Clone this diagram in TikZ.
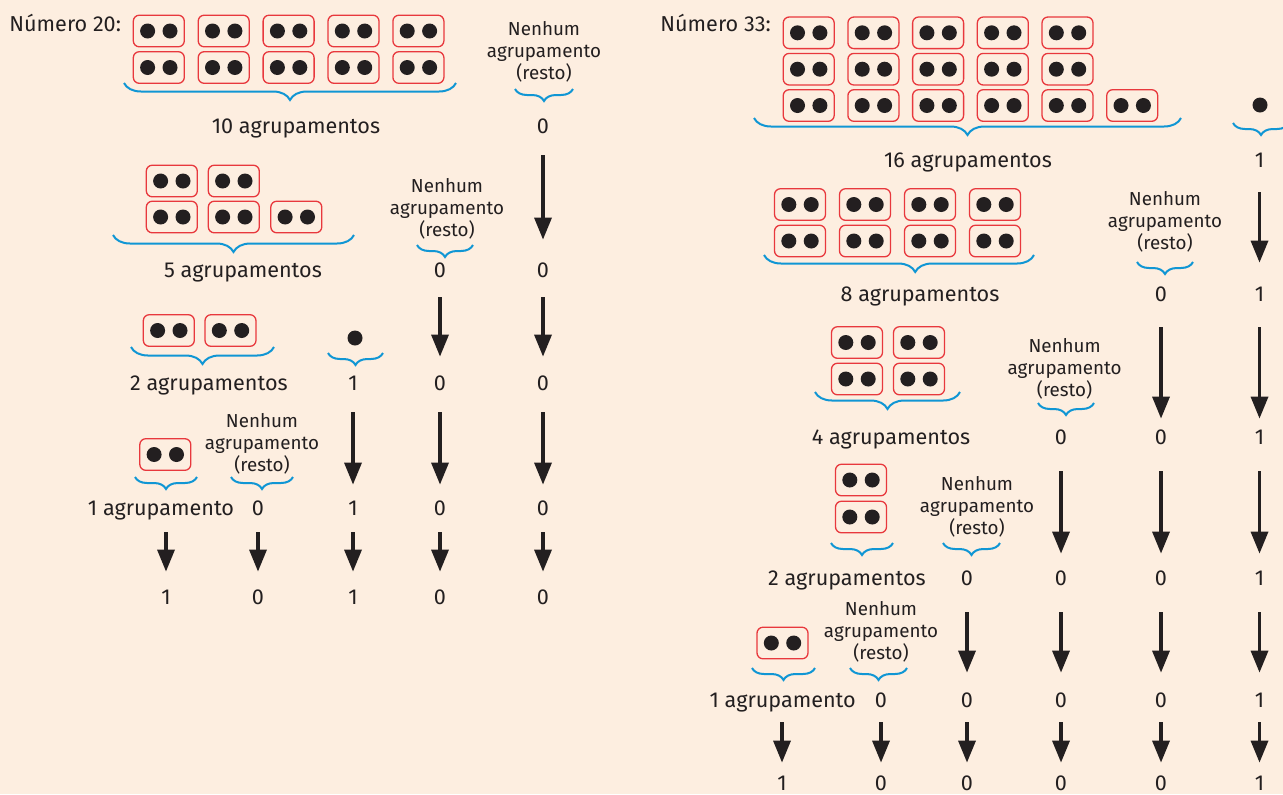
\documentclass[tikz,border=0pt]{standalone}
\usepackage{fontspec}
\setmainfont{Fira Sans}
\usepackage{tikz}
\usetikzlibrary{arrows.meta,decorations.pathreplacing}

\definecolor{fundo}{HTML}{FDEEE0}
\definecolor{caixa}{HTML}{E8383D}
\definecolor{azulchave}{HTML}{1096D4}
\definecolor{tinta}{HTML}{231F20}

\tikzset{
  grupo/.style={draw=caixa,line width=0.65pt,rounded corners=3pt,minimum width=25.5pt,minimum height=15.8pt,inner sep=0pt,
    path picture={\fill[tinta] ([xshift=-5.6pt]path picture bounding box.center) circle[radius=3.75pt]
      ([xshift=5.6pt]path picture bounding box.center) circle[radius=3.75pt];}},
  ponto/.style={circle,fill=tinta,inner sep=0pt,minimum size=7.5pt},
  num/.style={anchor=base,inner sep=0pt,text height=7.5pt,text depth=0pt,font=\fontsize{10.8}{13}\selectfont},
  rotulo/.style={anchor=base,inner sep=0pt,font=\fontsize{10.8}{13}\selectfont},
  resto/.style={align=center,inner sep=0pt,font=\fontsize{9.4}{11}\selectfont},
  chave/.style={decorate,decoration={brace,mirror,amplitude=8.5pt},draw=azulchave,line width=1pt},
  chavinha/.style={decorate,decoration={brace,mirror,amplitude=6pt},draw=azulchave,line width=1pt},
  seta/.style={-{Triangle[length=11pt,width=8.5pt]},line width=1.7pt,draw=tinta},
}

\begin{document}
\begin{tikzpicture}[x=0.5pt,y=-0.5pt,text=tinta]
 \fill[fundo] (0,0) rectangle (1283,794);
 \useasboundingbox (0,0) rectangle (1283,794);

 % numero 20
 \node[rotulo,anchor=base west] (tit20) at (9,31) {Número 20:};
 \foreach \i in {0,...,4} {
   \node[grupo] (l1a\i) at (158.8+64.9*\i,31) {};
   \node[grupo] (l1b\i) at (158.8+64.9*\i,67.5) {};
 }
 \draw[chave] (124,83) -- (456,83);
 \node[rotulo] (l1txt) at (296,133) {10 agrupamentos};
 \node[resto] (l1resto) at (544,52) {Nenhum\\agrupamento\\(resto)};
 \draw[chavinha] (515,89) -- (573,89);
 \node[num] (l1c1) at (543,133) {0};

 \foreach \x [count=\i] in {171.8,233.8} \node[grupo] (l2a\i) at (\x,181) {};
 \foreach \x [count=\i] in {171.8,233.8,296.3} \node[grupo] (l2b\i) at (\x,217) {};
 \draw[chave] (113,235) -- (354,235);
 \node[rotulo] (l2txt) at (243,277) {5 agrupamentos};
 \node[resto] (l2resto) at (447,209) {Nenhum\\agrupamento\\(resto)};
 \draw[chavinha] (417,245) -- (473,245);
 \node[num] (l2c2) at (440,277) {0};
 \node[num] (l2c1) at (543,277) {0};
 \draw[seta,shorten <=11pt,shorten >=11pt] (l1c1) -- (l2c1);

 \node[grupo] (l3a1) at (168.8,330.5) {};
 \node[grupo] (l3a2) at (230.5,330.5) {};
 \draw[chave] (131,347) -- (274,347);
 \node[rotulo] (l3txt) at (209,390) {2 agrupamentos};
 \node[ponto] (l3pt) at (355,338) {};
 \draw[chavinha] (328,353) -- (383,353);
 \node[num] (l3c3) at (353,390) {1};
 \node[num] (l3c2) at (440,390) {0};
 \node[num] (l3c1) at (543,390) {0};
 \foreach \c in {1,2}
   \draw[seta,shorten <=10pt,shorten >=9pt] (l2c\c) -- (l3c\c);

 \node[grupo] (l4a1) at (165.3,454.5) {};
 \draw[chavinha] (135,477) -- (197,477);
 \node[rotulo] (l4txt) at (161,515) {1 agrupamento};
 \node[resto] (l4resto) at (262,444) {Nenhum\\agrupamento\\(resto)};
 \draw[chavinha] (231,477) -- (293,477);
 \node[num] (l4c4) at (258,515) {0};
 \node[num] (l4c3) at (353,515) {1};
 \node[num] (l4c2) at (440,515) {0};
 \node[num] (l4c1) at (543,515) {0};
 \foreach \c in {1,2,3}
   \draw[seta,shorten <=11pt,shorten >=7.5pt] (l3c\c) -- (l4c\c);

 \foreach \x/\v [count=\c] in {543/0,440/0,353/1,258/0,166/1}
   \node[num] (l5c\c) at (\x,604) {\v};
 \foreach \c in {1,...,4}
   \draw[seta,shorten <=8.5pt,shorten >=8.5pt] (l4c\c) -- (l5c\c);
 \draw[seta,shorten <=8.5pt,shorten >=8.5pt] (l4txt.base -| l5c5) -- (l5c5);

 % numero 33
 \node[rotulo,anchor=base west] (tit33) at (660,31) {Número 33:};
 \foreach \i in {0,...,4} {
   \node[grupo] (r1a\i) at (808.7+64.7*\i,32.8) {};
   \node[grupo] (r1b\i) at (808.7+64.7*\i,69.2) {};
   \node[grupo] (r1c\i) at (808.7+64.7*\i,105.5) {};
 }
 \node[grupo] (r1c5) at (1132.2,105.5) {};
 \draw[chave] (754,118) -- (1181,118);
 \node[rotulo] (r1txt) at (968,167) {16 agrupamentos};
 \node[ponto] (r1pt) at (1260,105) {};
 \draw[chavinha] (1233,123) -- (1289,123);
 \node[num] (r1c1) at (1259.5,167) {1};

 \foreach \x [count=\i] in {800,865,930,995} {
   \node[grupo] (r2a\i) at (\x,204.5) {};
   \node[grupo] (r2b\i) at (\x,241) {};
 }
 \draw[chave,decoration={aspect=0.56}] (764,255) -- (1034,255);
 \node[rotulo] (r2txt) at (920,301) {8 agrupamentos};
 \node[resto] (r2resto) at (1165,222) {Nenhum\\agrupamento\\(resto)};
 \draw[chavinha] (1137,262) -- (1193,262);
 \node[num] (r2c2) at (1161,301) {0};
 \node[num] (r2c1) at (1259.5,301) {1};
 \draw[seta,shorten <=12.5pt,shorten >=11.5pt] (r1c1) -- (r2c1);

 \foreach \x [count=\i] in {857,919} {
   \node[grupo] (r3a\i) at (\x,342.5) {};
   \node[grupo] (r3b\i) at (\x,379) {};
 }
 \draw[chave] (815,392) -- (960,392);
 \node[rotulo] (r3txt) at (891,444) {4 agrupamentos};
 \node[resto] (r3resto) at (1064.6,369) {Nenhum\\agrupamento\\(resto)};
 \draw[chavinha] (1038,403) -- (1094,403);
 \node[num] (r3c3) at (1061,444) {0};
 \node[num] (r3c2) at (1161,444) {0};
 \node[num] (r3c1) at (1259.5,444) {1};
 \foreach \c in {1,2}
   \draw[seta,shorten <=13pt,shorten >=5pt] (r2c\c) -- (r3c\c);

 \node[grupo] (r4a1) at (861,480) {};
 \node[grupo] (r4b1) at (861,517) {};
 \draw[chavinha] (831,543) -- (893,543);
 \node[rotulo] (r4txt) at (847,585) {2 agrupamentos};
 \node[resto] (r4resto) at (977,507) {Nenhum\\agrupamento\\(resto)};
 \draw[chavinha] (943,543) -- (1000,543);
 \foreach \x/\v [count=\c] in {1259.5/1,1161/0,1061/0,967/0}
   \node[num] (r4c\c) at (\x,585) {\v};
 \foreach \c in {1,2,3}
   \draw[seta,shorten <=13.5pt,shorten >=8pt] (r3c\c) -- (r4c\c);

 \node[grupo] (r5a1) at (782.5,643) {};
 \draw[chavinha] (752,668) -- (815,668);
 \node[rotulo] (r5txt) at (782.7,707) {1 agrupamento};
 \node[resto] (r5resto) at (881,632) {Nenhum\\agrupamento\\(resto)};
 \draw[chavinha] (850,668) -- (907,668);
 \foreach \x/\v [count=\c] in {1259.5/1,1161/0,1061/0,967/0,881/0}
   \node[num] (r5c\c) at (\x,707) {\v};
 \foreach \c in {1,...,4}
   \draw[seta,shorten <=13.5pt,shorten >=9.5pt] (r4c\c) -- (r5c\c);

 \foreach \x/\v [count=\c] in {1259.5/1,1161/0,1061/0,967/0,881/0,782/1}
   \node[num] (r6c\c) at (\x,790) {\v};
 \foreach \c in {1,...,5}
   \draw[seta,shorten <=7.5pt,shorten >=6pt] (r5c\c) -- (r6c\c);
 \draw[seta,shorten <=7.5pt,shorten >=6pt] (r5txt.base -| r6c6) -- (r6c6);
\end{tikzpicture}
\end{document}
